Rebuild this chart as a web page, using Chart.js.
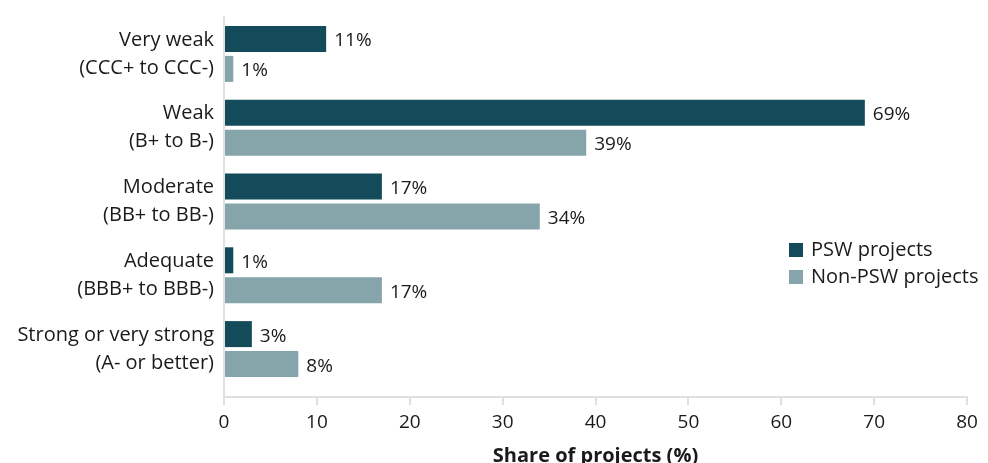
<!DOCTYPE html>
<html>
<head>
<meta charset="utf-8">
<script src="https://cdn.jsdelivr.net/npm/chart.js@4.4.1/dist/chart.umd.min.js"></script>
<style>
  html, body { margin: 0; padding: 0; background: #fff; }
  #wrap { width: 988px; height: 463px; }
</style>
</head>
<body>
<div id="wrap"><canvas id="bars"></canvas></div>
<script>
const categories = [
  ["Very weak", "(CCC+ to CCC-)"],
  ["Weak", "(B+ to B-)"],
  ["Moderate", "(BB+ to BB-)"],
  ["Adequate", "(BBB+ to BBB-)"],
  ["Strong or very strong", "(A- or better)"]
];
const pswValues = [11, 69, 17, 1, 3];
const nonPswValues = [1, 39, 34, 17, 8];
const xTicks = [0, 10, 20, 30, 40, 50, 60, 70, 80];

const FONT = "'Open Sans', Lato, sans-serif";
const TEXT = "#1a1a1a";
const AXIS = "#e0e0e0";

// squeeze the category bands a bit so a gap is left above the x axis
const bandGap = {
  id: "bandGap",
  afterLayout(chart) {
    const y = chart.scales.y;
    y._length -= 11;
  }
};

const valueLabels = {
  id: "valueLabels",
  afterDatasetsDraw(chart) {
    const ctx = chart.ctx;
    ctx.save();
    ctx.font = "19px " + FONT;
    ctx.fillStyle = TEXT;
    ctx.textAlign = "left";
    ctx.textBaseline = "middle";
    chart.data.datasets.forEach((ds, i) => {
      chart.getDatasetMeta(i).data.forEach((bar, j) => {
        ctx.fillText(ds.data[j] + "%", bar.x + 8, bar.y + 2);
      });
    });
    ctx.restore();
  }
};

const boxLegend = {
  id: "boxLegend",
  afterDraw(chart) {
    const ctx = chart.ctx;
    ctx.save();
    ctx.font = "20px " + FONT;
    ctx.textBaseline = "middle";
    ctx.textAlign = "left";
    chart.data.datasets.forEach((ds, i) => {
      const top = 243 + i * 27;
      ctx.fillStyle = ds.backgroundColor;
      ctx.fillRect(789, top, 14, 14);
      ctx.fillStyle = TEXT;
      ctx.fillText(ds.label, 811, top + 7);
    });
    ctx.restore();
  }
};

new Chart("bars", {
  type: "bar",
  data: {
    labels: categories,
    datasets: [
      { label: "PSW projects", data: pswValues, backgroundColor: "#134b5a" },
      { label: "Non-PSW projects", data: nonPswValues, backgroundColor: "#86a5ab" }
    ]
  },
  options: {
    indexAxis: "y",
    responsive: true,
    maintainAspectRatio: false,
    animation: false,
    categoryPercentage: 0.813,
    barPercentage: 0.867,
    layout: { padding: { top: 17, right: 21, left: 0, bottom: 0 } },
    plugins: {
      legend: { display: false },
      tooltip: { enabled: false }
    },
    scales: {
      x: {
        min: 0,
        max: 80,
        afterBuildTicks(scale) { scale.ticks = xTicks.map(v => ({ value: v })); },
        afterFit(scale) { scale.height = 66; },
        grid: { drawOnChartArea: false, drawTicks: true, tickLength: 8, color: AXIS, lineWidth: 2 },
        border: { color: AXIS, width: 2 },
        ticks: { color: TEXT, padding: 6, font: { family: FONT, size: 19 } },
        title: {
          display: true,
          text: "Share of projects (%)",
          color: TEXT,
          padding: { top: 0, bottom: 0 },
          font: { family: FONT, size: 20, weight: "bold", lineHeight: 0.7 }
        }
      },
      y: {
        afterFit(scale) {
          scale.width = 224;
          scale.paddingTop = 0;
          scale.paddingBottom = 0;
        },
        grid: { display: false, drawTicks: false, tickLength: 0 },
        border: { color: AXIS, width: 2 },
        ticks: { color: TEXT, padding: 10, font: { family: FONT, size: 20, lineHeight: 1.4 } }
      }
    }
  },
  plugins: [bandGap, valueLabels, boxLegend]
});
</script>
</body>
</html>
